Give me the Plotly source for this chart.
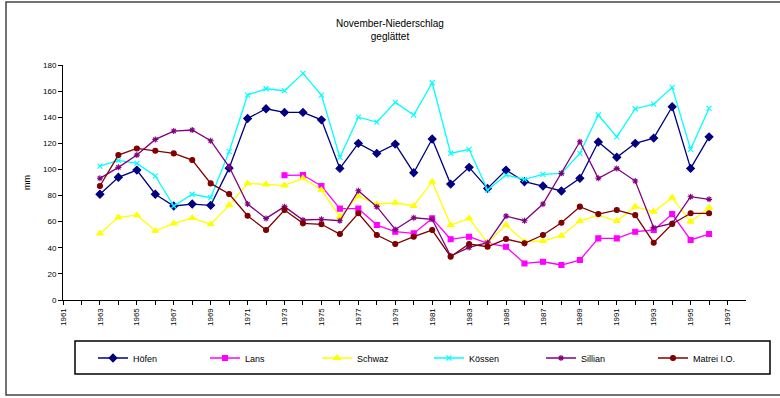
import plotly.graph_objects as go

# Smoothed November precipitation (mm) per station
years = list(range(1963, 1997))
years_lans = list(range(1973, 1997))

hoefen = [81, 94, 99.5, 81, 72, 73.5, 72.5, 101, 139, 146.5, 143.7, 143.7,
          138, 100.8, 120, 112.3, 119.4, 97.5, 123.3, 88.8, 101.6, 85.5, 99.5,
          90.6, 87.3, 83.5, 93.2, 121, 109.3, 120, 124, 148, 100.8, 125]
lans = [95.5, 95.7, 87.3, 70, 70, 57.4, 52.3, 51, 62.5, 46.5, 48.5, 43.4,
        40.8, 28, 29.3, 26.8, 30.6, 47.2, 47.2, 52.3, 53.6, 65.8, 46, 50.5]
schwaz = [51, 63.3, 65, 53, 58.7, 62.8, 58, 72.7, 89.3, 88.6, 87.8, 93.2,
          84.2, 63.8, 79.6, 73.5, 74.5, 72, 90.6, 57.4, 62.5, 43.9, 57.4,
          44.7, 45.2, 49.3, 60.5, 65, 60.5, 71.5, 67.6, 78.4, 60, 70.7]
koessen = [102.6, 107, 104.6, 95, 72, 81, 78.4, 113.6, 157, 161.8, 160.3, 173.6,
           157, 109.3, 140, 136.3, 151.4, 141.7, 166.4, 112.3, 115.4, 84.2, 95.7,
           92.4, 96.2, 97, 112.3, 141.7, 125, 146.5, 150, 162.9, 115.4, 146.8]
sillian = [93.2, 101.6, 111, 123, 129.4, 130.2, 122, 102, 73.5, 62.5, 71.5, 61.3,
           61.8, 60.7, 83.7, 71.5, 54, 63, 61.8, 33.7, 40.3, 43.9, 64.3,
           60.7, 73.5, 97, 121.2, 93.2, 100.8, 91.1, 55.4, 58.7, 79.1, 77.1]
matrei = [87.3, 111, 116.1, 114.3, 112.3, 107.2, 89.3, 81.2, 64.5, 53.6, 68.9, 58.7,
          58, 50.5, 66.4, 49.8, 42.9, 48.5, 53.6, 33.2, 42.9, 40.8, 46.7,
          43.4, 49.8, 59.2, 71.5, 65.8, 68.9, 65, 43.9, 58.2, 66.4, 66.4]

tick_years = list(range(1961, 1998))
tick_text = [str(y) if (y - 1961) % 2 == 0 else "" for y in tick_years]

series = [
    ("Höfen", years, hoefen, "#000080", "diamond", 6),
    ("Lans", years_lans, lans, "#FF00FF", "square", 5),
    ("Schwaz", years, schwaz, "#FFFF00", "triangle-up", 6),
    ("Kössen", years, koessen, "#00FFFF", "x-thin-open", 5),
    ("Sillian", years, sillian, "#800080", "asterisk-open", 5),
    ("Matrei I.O.", years, matrei, "#800000", "circle", 5),
]

fig = go.Figure()
for name, xs, ys, color, symbol, size in series:
    fig.add_trace(go.Scatter(
        x=xs, y=ys, name=name, mode="lines+markers",
        line=dict(color=color, width=1.3),
        marker=dict(color=color, symbol=symbol, size=size,
                    line=dict(color=color, width=1.1)),
    ))

fig.update_layout(
    width=780, height=398,
    margin=dict(l=63, r=34, t=65, b=98),
    paper_bgcolor="white", plot_bgcolor="white",
    font=dict(family="Liberation Sans, Arial, sans-serif", size=9, color="black"),
    title=dict(text="November-Niederschlag<br>geglättet", x=0.5, xanchor="center",
               y=0.932, yanchor="top", font=dict(size=10)),
    showlegend=True,
    legend=dict(orientation="h", x=(93 - 63) / 683, xanchor="left",
                y=(300 - 358) / 235, yanchor="middle",
                borderwidth=0, entrywidth=67, entrywidthmode="pixels",
                font=dict(size=9), itemwidth=30, bgcolor="rgba(0,0,0,0)"),
    xaxis=dict(range=[1961, 1998], tickmode="array", tickvals=tick_years,
               ticktext=tick_text, tickangle=-90, ticks="outside", ticklen=4,
               tickcolor="black", showline=True, linecolor="black", linewidth=1,
               showgrid=False, zeroline=False, tickfont=dict(size=8)),
    yaxis=dict(range=[0, 180], dtick=20, ticks="outside", ticklen=4,
               tickcolor="black", showline=True, linecolor="black", linewidth=1,
               showgrid=False, zeroline=False, tickfont=dict(size=8),
               title=dict(text="mm", font=dict(size=9), standoff=10)),
)

# Outer frame around the whole chart
fig.add_shape(type="rect", xref="paper", yref="paper",
              x0=(6 - 63) / 683, x1=(784 - 63) / 683,
              y0=(300 - 395) / 235, y1=(300 - 2) / 235,
              line=dict(color="#444444", width=1.5), layer="below")

# Box around the legend
fig.add_shape(type="rect", xref="paper", yref="paper",
              x0=(75 - 63) / 683, x1=(770 - 63) / 683,
              y0=(300 - 374) / 235, y1=(300 - 341) / 235,
              line=dict(color="black", width=1.5), layer="below")

fig.write_html("out.html")
